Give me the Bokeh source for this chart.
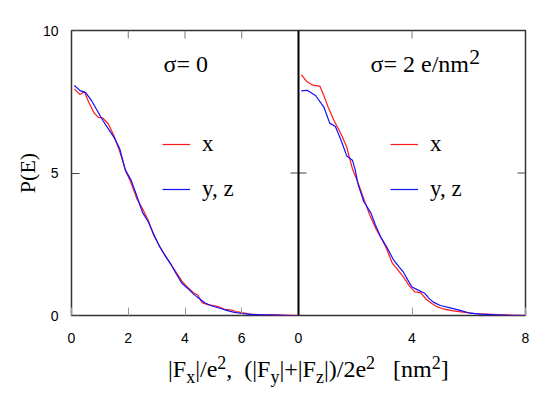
from bokeh.plotting import figure
from bokeh.layouts import column
from bokeh.models import (Range1d, FixedTicker, Span, Label, Legend, LegendItem,
                          ColumnDataSource, Div)
from bokeh.transform import dodge
from bokeh.embed import file_html
from bokeh.resources import INLINE

# ---------------- data ----------------
# panel sigma = 0
s0_x_red = [0.1, 0.3, 0.45, 0.6, 0.8, 0.95, 1.1, 1.3, 1.5, 1.7, 1.9, 2.1, 2.3, 2.5, 2.7, 2.9,
            3.1, 3.3, 3.5, 3.7, 3.9, 4.1, 4.3, 4.45, 4.6, 4.8, 5.0, 5.2, 5.4, 5.6, 5.8, 6.0,
            6.3, 6.6, 7.0, 7.5, 8.0]
s0_y_red = [7.95, 7.75, 7.86, 7.5, 7.1, 6.95, 6.93, 6.72, 6.3, 5.75, 5.1, 4.65, 4.1, 3.75, 3.35, 2.8,
            2.45, 2.1, 1.8, 1.5, 1.2, 0.98, 0.8, 0.72, 0.45, 0.38, 0.35, 0.3, 0.22, 0.2, 0.14, 0.1,
            0.05, 0.03, 0.02, 0.01, 0.0]
s0_x_blue = [0.1, 0.3, 0.5, 0.7, 0.9, 1.1, 1.3, 1.5, 1.7, 1.9, 2.1, 2.3, 2.5, 2.7, 2.9, 3.1, 3.3,
             3.5, 3.7, 3.9, 4.1, 4.3, 4.5, 4.7, 4.9, 5.1, 5.4, 5.7, 6.0, 6.4, 6.8, 7.2, 7.6, 8.0]
s0_y_blue = [8.07, 7.89, 7.82, 7.55, 7.2, 6.85, 6.55, 6.25, 5.85, 5.1, 4.75, 4.2, 3.62, 3.3, 2.85,
             2.42, 2.1, 1.8, 1.45, 1.12, 0.95, 0.75, 0.6, 0.45, 0.35, 0.29, 0.2, 0.12, 0.07, 0.03,
             0.02, 0.01, 0.0, 0.0]
# panel sigma = 2 e/nm^2
s2_x_red = [0.1, 0.3, 0.5, 0.75, 0.9, 1.05, 1.25, 1.5, 1.7, 1.9, 2.1, 2.3, 2.5, 2.75, 2.95, 3.1,
            3.3, 3.5, 3.7, 3.9, 4.1, 4.3, 4.5, 4.7, 4.9, 5.1, 5.4, 5.8, 6.2, 6.6, 7.0, 7.5, 8.0]
s2_y_red = [8.45, 8.2, 8.08, 8.05, 7.7, 7.3, 6.84, 6.37, 5.91, 5.15, 4.65, 4.1, 3.55, 3.0, 2.65, 2.35,
            1.85, 1.6, 1.35, 1.05, 0.83, 0.8, 0.57, 0.42, 0.3, 0.23, 0.17, 0.12, 0.07, 0.05, 0.03,
            0.01, 0.0]
s2_x_blue = [0.1, 0.3, 0.6, 0.9, 1.1, 1.3, 1.5, 1.7, 1.9, 2.0, 2.1, 2.3, 2.55, 2.7, 2.9, 3.1, 3.35,
             3.55, 3.7, 3.85, 4.0, 4.2, 4.45, 4.6, 4.75, 5.0, 5.35, 5.7, 6.05, 6.4, 6.8, 7.3, 8.0]
s2_y_blue = [7.88, 7.9, 7.72, 7.3, 6.75, 6.63, 6.15, 5.6, 5.45, 5.1, 4.6, 4.0, 3.6, 3.2, 2.75, 2.42,
             1.95, 1.7, 1.52, 1.25, 1.0, 0.9, 0.78, 0.6, 0.47, 0.35, 0.27, 0.18, 0.08, 0.05, 0.03,
             0.01, 0.0]

panel_width = 8
xticks_left = [0, 2, 4, 6]
xticks_right = [0, 4, 8]
yticks = [0, 5, 10]
legend_labels = ["x", "y, z"]
panel_titles = [[("σ= 0", 0)], [("σ= 2 e/nm", 0), ("2", 1)]]
x_title = [("|F", 0), ("x", -1), ("|/e", 0), ("2", 1), (",  (|F", 0), ("y", -1), ("|+|F", 0),
           ("z", -1), ("|)/2e", 0), ("2", 1), ("   [nm", 0), ("2", 1), ("]", 0)]
y_title = "P(E)"

RED = "#ff1a1a"
BLUE = "#1010ff"
SERIF = "Liberation Serif"
SANS = "Liberation Sans"

# ---------------- geometry ----------------
FW, FH = 454, 285
BL, BT, BR, BB = 71, 30, 12, 35
W_TOT = BL + FW + BR
FRAME_L = BL
FRAME_B = BT + FH
TITLE_H = 42
PX_X = FW / (2 * panel_width)
PX_Y = FH / 10.0
TICK = 8
BASE_FIX = 0.46  # baseline correction (fraction of font size)


def tox(px):
    return (px - FRAME_L) / PX_X


def toy(py):
    return (FRAME_B - py) / PX_Y


p = figure(width=W_TOT, height=BT + FH + BB, x_range=Range1d(0, 2 * panel_width),
           y_range=Range1d(0, 10), output_backend="svg", toolbar_location=None,
           min_border_left=BL, min_border_right=BR, min_border_top=BT, min_border_bottom=BB)
p.xgrid.grid_line_color = None
p.ygrid.grid_line_color = None
p.outline_line_color = "#333333"
p.outline_line_width = 1.5
p.background_fill_color = "white"
p.border_fill_color = "white"

all_xticks = xticks_left + [panel_width + t for t in xticks_right]
overrides = {t: str(t) for t in xticks_left}
overrides.update({panel_width + t: str(t) for t in xticks_right})

xa = p.xaxis[0]
xa.ticker = FixedTicker(ticks=all_xticks)
xa.major_label_overrides = overrides
xa.major_tick_in = TICK
xa.major_tick_out = 0
xa.minor_tick_line_color = None
xa.major_tick_line_color = "#999999"
xa.axis_line_color = None
xa.major_label_text_font = SANS
xa.major_label_text_font_size = "14px"
xa.major_label_text_color = "black"
xa.major_label_standoff = 17

ya = p.yaxis[0]
ya.ticker = FixedTicker(ticks=yticks)
ya.major_tick_in = TICK
ya.major_tick_out = 0
ya.minor_tick_line_color = None
ya.major_tick_line_color = "#444444"
ya.axis_line_color = None
ya.major_label_text_font = SANS
ya.major_label_text_font_size = "14px"
ya.major_label_text_color = "black"
ya.major_label_standoff = 13
ya.axis_label = y_title
ya.axis_label_text_font = SERIF
ya.axis_label_text_font_size = "22px"
ya.axis_label_text_font_style = "normal"
ya.axis_label_text_color = "black"
ya.axis_label_standoff = 0

# inward ticks on top edge, right edge and the panel divider
inner_top = [t for t in all_xticks if 0 < t < 2 * panel_width and t != panel_width]
p.segment(x0=inner_top, x1=inner_top, y0=[yticks[-1]] * len(inner_top),
          y1=[yticks[-1] - TICK / PX_Y] * len(inner_top), line_color="#777777", line_width=1)
p.segment(x0=[2 * panel_width - TICK / PX_X], x1=[2 * panel_width], y0=[yticks[1]], y1=[yticks[1]],
          line_color="#444444", line_width=1)
p.add_layout(Span(location=panel_width, dimension="height", line_color="black", line_width=2))
p.segment(x0=[panel_width - TICK / PX_X], x1=[panel_width + TICK / PX_X], y0=[yticks[1]],
          y1=[yticks[1]], line_color="#444444", line_width=1)

# curves
r0r = p.line(x="x", y="y", source=ColumnDataSource(dict(x=s0_x_red, y=s0_y_red)),
             line_color=RED, line_width=1.2)
r0b = p.line(x="x", y="y", source=ColumnDataSource(dict(x=s0_x_blue, y=s0_y_blue)),
             line_color=BLUE, line_width=1.2)
r2r = p.line(x=dodge("x", panel_width), y="y",
             source=ColumnDataSource(dict(x=s2_x_red, y=s2_y_red)), line_color=RED, line_width=1.2)
r2b = p.line(x=dodge("x", panel_width), y="y",
             source=ColumnDataSource(dict(x=s2_x_blue, y=s2_y_blue)), line_color=BLUE, line_width=1.2)

for rs, loc in (((r0r, r0b), (91, 113)), ((r2r, r2b), (319, 113))):
    leg = Legend(items=[LegendItem(label=legend_labels[0], renderers=[rs[0]]),
                        LegendItem(label=legend_labels[1], renderers=[rs[1]])],
                 location=loc, glyph_width=28, glyph_height=20, label_height=20,
                 label_standoff=12, spacing=19, padding=0, margin=0,
                 border_line_color=None, background_fill_alpha=0,
                 label_text_font=SERIF, label_text_font_size="23px", label_text_color="black")
    p.add_layout(leg)

# rich text labels inside the plot (Times-metric widths)
WID = {' ': .25, '|': .2, 'F': .556, 'x': .5, '/': .278, 'e': .444, '2': .5, ',': .25, '(': .333,
       ')': .333, 'y': .5, '+': .564, 'z': .444, '[': .333, ']': .333, 'n': .5, 'm': .778,
       'σ': .55, '=': .564, '0': .5}


def rich(segs, px0, py0, size, scale, sup, sub):
    x = px0
    for text, kind in segs:
        fs = size * scale if kind else size
        lead = len(text) - len(text.lstrip(" "))
        x += lead * WID[" "] * size
        s = text.strip(" ")
        shift = sup if kind > 0 else (sub if kind < 0 else 0)
        p.add_layout(Label(x=tox(x), y=toy(py0), y_offset=shift + BASE_FIX * fs, text=s,
                           text_font=SERIF, text_font_size=f"{fs:.1f}px",
                           text_color="black", text_align="left", text_baseline="alphabetic"))
        x += sum(WID.get(c, .5) for c in s) * fs


rich(panel_titles[0], 163, 75, 24, 0.9, 9, -6)
rich(panel_titles[1], 370, 75, 24, 0.9, 9, -6)

# x-axis title as HTML text below the plot
parts = []
for text, kind in x_title:
    s = text.replace(" ", "&nbsp;")
    if kind > 0:
        parts.append(f'<span style="font-size:18px;vertical-align:8px;line-height:0">{s}</span>')
    elif kind < 0:
        parts.append(f'<span style="font-size:18px;vertical-align:-6px;line-height:0">{s}</span>')
    else:
        parts.append(s)
html = ('<div style="padding-left:168px;padding-top:7px;font-family:\'Liberation Serif\';'
        'font-size:24px;line-height:24px;white-space:nowrap;color:black">'
        + "".join(parts) + '</div>')
title_div = Div(text=html, width=W_TOT, height=TITLE_H, margin=0)

layout = column(p, title_div, spacing=0)
open("out.html", "w").write(file_html(layout, INLINE))
